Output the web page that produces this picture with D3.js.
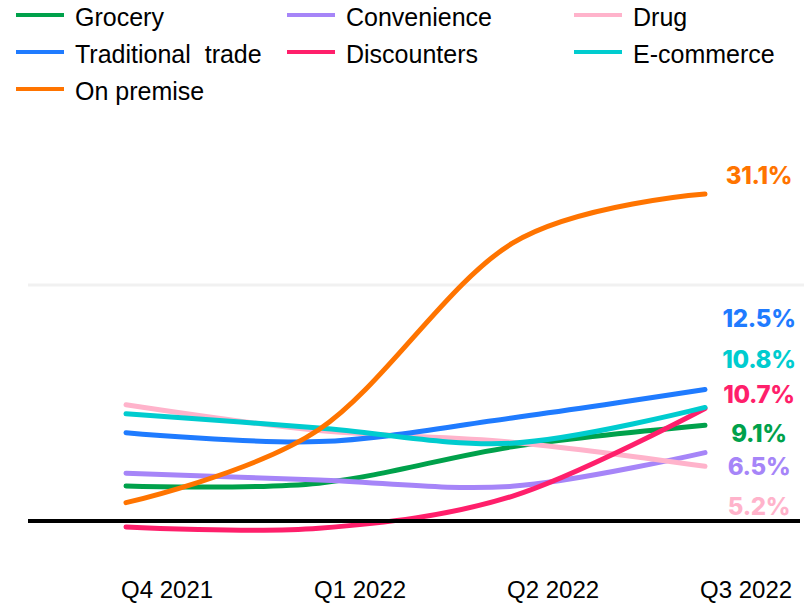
<!DOCTYPE html>
<html>
<head>
<meta charset="utf-8">
<script src="https://cdn.jsdelivr.net/npm/d3@7"></script>
<style>
  body { margin: 0; background: #fff; }
  svg { display: block; }
  .legend text { font: 25px "Liberation Sans", Arial, sans-serif; fill: #000; white-space: pre; }
  .axis text { font: 24px "Liberation Sans", Arial, sans-serif; fill: #000; }
  .value { font-family: Inter, "Open Sans", sans-serif; font-weight: 800; font-size: 24px; letter-spacing: -0.3px; }
</style>
</head>
<body>
<svg id="chart" width="804" height="603"></svg>
<script>
var quarters = ["Q4 2021", "Q1 2022", "Q2 2022", "Q3 2022"];

var names = ["Grocery", "Convenience", "Drug", "Traditional  trade", "Discounters", "E-commerce", "On premise"];
var colors = ["#00a14b", "#a685f8", "#ffb3cb", "#1f7bff", "#ff1f6b", "#00cccf", "#ff7400"];

var grocery     = [3.33, 3.6, 7.05, 9.1];
var convenience = [4.55, 3.9, 3.3, 6.5];
var drug        = [11.05, 8.6, 7.5, 5.2];
var traditional = [8.4, 7.55, 9.8, 12.5];
var discounters = [-0.57, -0.7, 2.35, 10.7];
var ecommerce   = [10.2, 8.85, 7.4, 10.8];
var onPremise   = [1.75, 8.7, 26.4, 31.1];

var endLabels = ["9.1%", "6.5%", "5.2%", "12.5%", "10.7%", "10.8%", "31.1%"];

var seriesValues = [grocery, convenience, drug, traditional, discounters, ecommerce, onPremise];

// label placement (pixel y centres, hand tuned like the original)
var labelY = [433, 466, 506, 318, 394, 359, 175];

var svg = d3.select("#chart");

var x = d3.scalePoint().domain(quarters).range([126, 705]),
    y = d3.scaleLinear().domain([0, 31.1]).range([521, 194]);

var series = names.map(function(n, i) {
  return { name: n, color: colors[i], label: endLabels[i], ly: labelY[i],
           values: seriesValues[i].map(function(v, j) { return { q: quarters[j], v: v }; }) };
});

// legend
var legend = svg.append("g").attr("class", "legend");
var colX = [16, 287, 574], rowY = [15, 52, 89];
series.forEach(function(s, i) {
  var g = legend.append("g")
      .attr("transform", "translate(" + colX[i % 3] + "," + rowY[Math.floor(i / 3)] + ")");
  g.append("line").attr("x1", 0).attr("x2", 48).attr("y1", 0).attr("y2", 0)
      .attr("stroke", s.color).attr("stroke-width", 4);
  g.append("text").attr("x", 59).attr("y", 11).text(s.name);
});

// faint gridline
svg.append("line")
    .attr("x1", 28).attr("x2", 804)
    .attr("y1", y(22.45)).attr("y2", y(22.45))
    .attr("stroke", "#f1f1f1").attr("stroke-width", 3);

// x labels
var axis = svg.append("g").attr("class", "axis");
axis.selectAll("text")
  .data(quarters)
  .enter().append("text")
    .attr("x", function(d) { return x(d) - 5; })
    .attr("y", 598)
    .text(function(d) { return d; });

var line = d3.line()
    .x(function(d) { return x(d.q); })
    .y(function(d) { return y(d.v); })
    .curve(d3.curveCardinal);

svg.append("g").selectAll("path")
  .data(series)
  .enter().append("path")
    .attr("d", function(d) { return line(d.values); })
    .attr("fill", "none")
    .attr("stroke", function(d) { return d.color; })
    .attr("stroke-width", 5)
    .attr("stroke-linecap", "round");

// zero line
svg.append("line")
    .attr("x1", 28).attr("x2", 800)
    .attr("y1", y(0)).attr("y2", y(0))
    .attr("stroke", "#000").attr("stroke-width", 4);

svg.append("g").selectAll("text")
  .data(series)
  .enter().append("text")
    .attr("class", "value")
    .attr("x", 759)
    .attr("y", function(d) { return d.ly; })
    .attr("dy", "0.36em")
    .attr("text-anchor", "middle")
    .attr("fill", function(d) { return d.color; })
    .text(function(d) { return d.label; });
</script>
</body>
</html>
